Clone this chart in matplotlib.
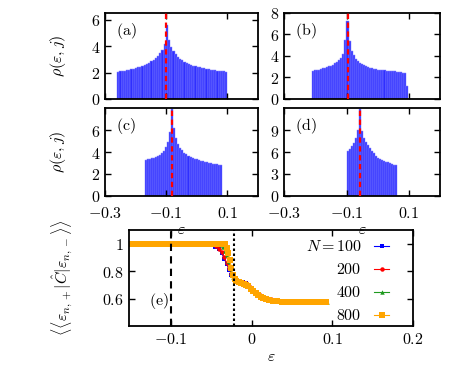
import numpy as np
import matplotlib.pyplot as plt

plt.rcParams['mathtext.fontset'] = 'cm'
plt.rcParams['font.family'] = ['DejaVu Serif']
plt.rcParams['font.size'] = 11.5

# --- density of states histograms (a)-(d) ---
hist_a_start, hist_a_width, hist_a_peak = -0.26, 0.0072, -0.100
hist_a = [2.05, 2.08, 2.11, 2.14, 2.17, 2.21, 2.25, 2.29, 2.34, 2.39,
          2.45, 2.51, 2.58, 2.66, 2.75, 2.85, 2.96, 3.09, 3.25, 3.45,
          3.72, 4.15, 5.60, 4.45, 3.95, 3.62, 3.38, 3.19, 3.04, 2.92,
          2.82, 2.73, 2.66, 2.59, 2.53, 2.48, 2.43, 2.39, 2.35, 2.31,
          2.28, 2.25, 2.22, 2.19, 2.17, 2.14, 2.12, 2.10, 2.08, 2.06]

hist_b_start, hist_b_width, hist_b_peak = -0.2125, 0.0066, -0.097
hist_b = [2.62, 2.66, 2.70, 2.74, 2.79, 2.84, 2.90, 2.96, 3.03, 3.11,
          3.20, 3.31, 3.44, 3.60, 3.80, 4.15, 5.50, 7.30, 5.40, 4.50,
          4.05, 3.75, 3.52, 3.35, 3.22, 3.12, 3.03, 2.96, 2.90, 2.85,
          2.81, 2.77, 2.74, 2.71, 2.68, 2.66, 2.64, 2.62, 2.60, 2.58,
          2.56, 2.53, 2.50, 2.47, 2.43, 2.39, 1.20]

hist_c_start, hist_c_width, hist_c_peak = -0.1691, 0.0066, -0.080
hist_c = [3.30, 3.34, 3.38, 3.43, 3.49, 3.56, 3.65, 3.76, 3.91, 4.12,
          4.45, 4.95, 5.80, 7.90, 6.20, 5.30, 4.75, 4.40, 4.15, 3.95,
          3.80, 3.67, 3.56, 3.47, 3.39, 3.32, 3.26, 3.21, 3.16, 3.11,
          3.07, 3.03, 2.99, 2.95, 2.92, 2.89, 2.86, 2.83]

hist_d_start, hist_d_width, hist_d_peak = -0.100, 0.00652, -0.058
hist_d = [6.10, 6.40, 6.80, 7.25, 7.90, 9.05, 11.8, 8.80, 7.90, 7.40,
          6.90, 6.60, 6.20, 5.80, 5.50, 5.25, 5.05, 4.90, 4.78, 4.67,
          4.57, 4.47, 4.38, 4.29, 4.20]

# --- panel (e): overlap vs energy for several N ---
eps_100 = [-0.150, -0.142, -0.134, -0.126, -0.118, -0.110, -0.102, -0.094,
           -0.086, -0.078, -0.070, -0.062, -0.054, -0.049, -0.045, -0.041,
           -0.037, -0.034, -0.031, -0.028, -0.025, -0.022, -0.019, -0.015,
           -0.011, -0.007, -0.003, 0.001, 0.005, 0.009, 0.014, 0.019, 0.025,
           0.032, 0.040, 0.048, 0.056, 0.064, 0.072, 0.080, 0.088]
ovl_100 = [1.0, 1.0, 1.0, 1.0, 1.0, 1.0, 1.0, 1.0,
           1.0, 1.0, 1.0, 1.0, 1.0, 0.99, 0.975, 0.96,
           0.93, 0.89, 0.855, 0.81, 0.775, 0.75, 0.735, 0.725,
           0.72, 0.715, 0.70, 0.675, 0.65, 0.63, 0.612, 0.60, 0.592,
           0.586, 0.582, 0.58, 0.579, 0.578, 0.578, 0.577, 0.577]

eps_200 = [-0.150, -0.144, -0.138, -0.132, -0.126, -0.120, -0.114, -0.108,
           -0.102, -0.096, -0.090, -0.084, -0.078, -0.072, -0.066, -0.060,
           -0.054, -0.048, -0.044, -0.040, -0.037, -0.034, -0.031, -0.028,
           -0.025, -0.022, -0.019, -0.015, -0.011, -0.007, -0.003, 0.001,
           0.005, 0.009, 0.013, 0.018, 0.024, 0.030, 0.037, 0.045, 0.053,
           0.061, 0.069, 0.077, 0.085, 0.092]
ovl_200 = [1.0, 1.0, 1.0, 1.0, 1.0, 1.0, 1.0, 1.0,
           1.0, 1.0, 1.0, 1.0, 1.0, 1.0, 1.0, 1.0,
           1.0, 1.0, 0.985, 0.965, 0.94, 0.90, 0.86, 0.82,
           0.78, 0.755, 0.735, 0.725, 0.718, 0.71, 0.695, 0.672,
           0.65, 0.63, 0.615, 0.603, 0.594, 0.587, 0.582, 0.579, 0.577,
           0.576, 0.576, 0.575, 0.575, 0.575]

eps_400 = [-0.150, -0.144, -0.138, -0.132, -0.126, -0.120, -0.114, -0.108,
           -0.102, -0.096, -0.090, -0.084, -0.078, -0.072, -0.066, -0.060,
           -0.054, -0.048, -0.043, -0.040, -0.037, -0.035, -0.033, -0.031,
           -0.029, -0.027, -0.025, -0.023, -0.021, -0.018, -0.014, -0.010,
           -0.006, -0.002, 0.002, 0.006, 0.010, 0.015, 0.021, 0.028, 0.036,
           0.045, 0.055, 0.065, 0.075, 0.085, 0.093]
ovl_400 = [1.0, 1.0, 1.0, 1.0, 1.0, 1.0, 1.0, 1.0,
           1.0, 1.0, 1.0, 1.0, 1.0, 1.0, 1.0, 1.0,
           1.0, 1.0, 1.0, 1.0, 0.99, 0.975, 0.95, 0.915,
           0.875, 0.83, 0.79, 0.76, 0.74, 0.726, 0.718, 0.71,
           0.70, 0.68, 0.657, 0.638, 0.622, 0.607, 0.596, 0.587, 0.581,
           0.577, 0.575, 0.574, 0.574, 0.573, 0.573]

eps_800 = [-0.150, -0.144, -0.138, -0.132, -0.126, -0.120, -0.114, -0.108,
           -0.102, -0.096, -0.090, -0.084, -0.078, -0.072, -0.066, -0.060,
           -0.054, -0.048, -0.042, -0.036, -0.033, -0.031, -0.029, -0.027,
           -0.025, -0.023, -0.021, -0.019, -0.016, -0.013, -0.010, -0.007,
           -0.004, -0.001, 0.002, 0.005, 0.008, 0.011, 0.014, 0.018, 0.022,
           0.027, 0.032, 0.038, 0.044, 0.050, 0.056, 0.062, 0.068, 0.074,
           0.080, 0.086, 0.092]
ovl_800 = [1.0, 1.0, 1.0, 1.0, 1.0, 1.0, 1.0, 1.0,
           1.0, 1.0, 1.0, 1.0, 1.0, 1.0, 1.0, 1.0,
           1.0, 1.0, 1.0, 1.0, 0.995, 0.97, 0.93, 0.88,
           0.82, 0.77, 0.74, 0.728, 0.72, 0.714, 0.708, 0.70,
           0.69, 0.672, 0.655, 0.64, 0.625, 0.613, 0.604, 0.596, 0.59,
           0.584, 0.58, 0.577, 0.576, 0.575, 0.575, 0.574, 0.574, 0.574,
           0.573, 0.573, 0.573]

eps_dashed = -0.1
eps_dotted = -0.022


def style_axes(ax):
    ax.tick_params(direction='in', top=True, right=True, length=4.5, width=1.0)
    for s in ax.spines.values():
        s.set_linewidth(1.3)


def draw_hist(ax, start, width, heights, peak, ylim, yticks, tag, xlabels):
    edges = start + width * np.arange(len(heights))
    ax.bar(edges, heights, width=width, align='edge', color='#2f2fff',
           edgecolor='#8a8aff', linewidth=0.35, zorder=1)
    ax.axvline(peak, color='red', lw=1.6, dashes=(2.4, 1.6), zorder=3)
    ax.set_xlim(-0.3, 0.2)
    ax.set_ylim(*ylim)
    ax.set_yticks(yticks, [f'${t}$' for t in yticks])
    xt = [-0.3, -0.1, 0.1]
    if xlabels:
        ax.set_xticks(xt, [r'$-0.3$', r'$-0.1$', r'$0.1$'])
        ax.set_xlabel(r'$\varepsilon$', labelpad=-1)
    else:
        ax.set_xticks(xt, [])
    ax.text(0.07, 0.79, r'$\mathrm{(' + tag + ')}$', transform=ax.transAxes,
            va='center', ha='left')
    style_axes(ax)
    ax.tick_params(axis='x', pad=6.5)


fig = plt.figure(figsize=(4.57, 3.68), dpi=100)
ax_a = fig.add_axes([0.2298, 0.731, 0.3348, 0.2337])
ax_b = fig.add_axes([0.6221, 0.731, 0.3407, 0.2337])
ax_c = fig.add_axes([0.2298, 0.4674, 0.3348, 0.2391])
ax_d = fig.add_axes([0.6221, 0.4674, 0.3407, 0.2391])
ax_e = fig.add_axes([0.2823, 0.1141, 0.6214, 0.2609])
ax_e.patch.set_alpha(0)

draw_hist(ax_a, hist_a_start, hist_a_width, hist_a, hist_a_peak, (0, 6.5), [0, 2, 4, 6], 'a', False)
draw_hist(ax_b, hist_b_start, hist_b_width, hist_b, hist_b_peak, (0, 8), [0, 2, 4, 6, 8], 'b', False)
draw_hist(ax_c, hist_c_start, hist_c_width, hist_c, hist_c_peak, (0, 8), [0, 2, 4, 6], 'c', True)
draw_hist(ax_d, hist_d_start, hist_d_width, hist_d, hist_d_peak, (0, 12), [0, 3, 6, 9], 'd', True)

for ax in (ax_a, ax_c):
    ax.set_ylabel(r'$\rho(\varepsilon, j)$')
    ax.yaxis.set_label_coords(-0.24, 0.5)

# panel (e)
ax_e.axvline(eps_dashed, color='black', lw=1.5, dashes=(3.5, 2.5), zorder=5)
ax_e.axvline(eps_dotted, color='black', lw=1.5, dashes=(1.2, 1.2), zorder=5)
series = [
    (eps_100, ovl_100, 'blue', 's', 3.2, r'$N=100$'),
    (eps_200, ovl_200, 'red', 'o', 3.2, r'$200$'),
    (eps_400, ovl_400, '#1f9a1f', '^', 3.2, r'$400$'),
    (eps_800, ovl_800, '#ffa500', 's', 4.6, r'$800$'),
]
for x, y, c, m, ms, lab in series:
    ax_e.plot(x, y, color=c, marker=m, ms=ms, lw=0.8, mew=0, label=lab)

ax_e.set_xlim(-0.152, 0.2)
ax_e.set_ylim(0.4, 1.1)
ax_e.set_xticks([-0.1, 0, 0.1, 0.2], [r'$-0.1$', r'$0$', r'$0.1$', r'$0.2$'])
ax_e.set_yticks([0.6, 0.8, 1.0], [r'$0.6$', r'$0.8$', r'$1$'])
ax_e.set_xlabel(r'$\varepsilon$', labelpad=0)
ax_e.set_ylabel(r'$\langle\langle\varepsilon_{n,+}|\hat{C}|\varepsilon_{n,-}\rangle\rangle$')
ax_e.yaxis.set_label_coords(-0.19, 0.5)
ax_e.text(0.07, 0.26, r'$\mathrm{(e)}$', transform=ax_e.transAxes,
          va='center', ha='left')
ax_e.legend(loc='upper right', bbox_to_anchor=(0.915, 0.915), frameon=False,
            markerfirst=False, handlelength=0.9, handletextpad=0.8,
            labelspacing=0.38, borderpad=0, borderaxespad=0)
style_axes(ax_e)

fig.savefig('out.png', dpi=100)
